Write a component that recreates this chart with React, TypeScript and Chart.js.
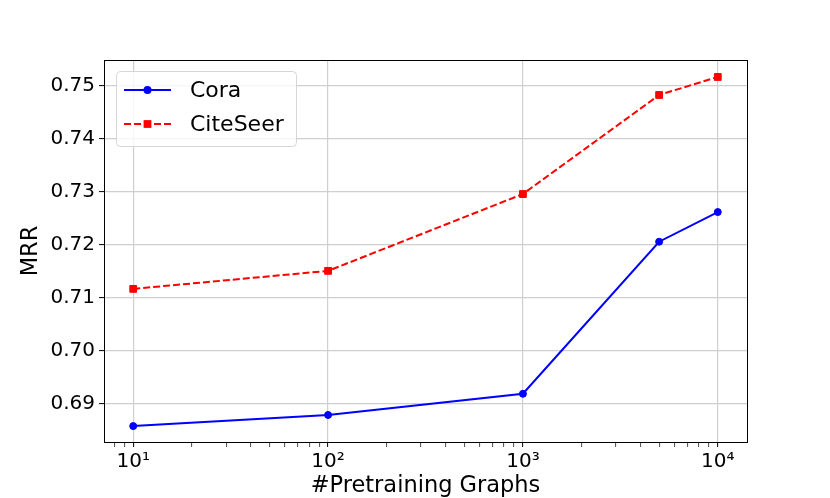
import { useEffect, useRef } from 'react';
import { Chart, registerables } from 'chart.js';

Chart.register(...registerables);

const pretrainGraphs = [10, 100, 1000, 5000, 10000];
const coraMRR = [0.6858, 0.6879, 0.6919, 0.7206, 0.7262];
const citeseerMRR = [0.7117, 0.7151, 0.7296, 0.7483, 0.7517];

const yTickValues = [0.69, 0.7, 0.71, 0.72, 0.73, 0.74, 0.75];
const xMajorTicks = [10, 100, 1000, 10000];
const xMinorTicks = [8, 9, 20, 30, 40, 50, 60, 70, 80, 90, 200, 300, 400, 500, 600, 700, 800, 900, 2000, 3000, 4000, 5000, 6000, 7000, 8000, 9000];
const superscripts: Record<string, string> = { '1': '¹', '2': '²', '3': '³', '4': '⁴' };

const FONT = "'DejaVu Sans', sans-serif";

// matplotlib-style frame around the plot area
const framePlugin = {
  id: 'frame',
  afterDraw(chart: any) {
    const { ctx, chartArea: a } = chart;
    ctx.save();
    ctx.strokeStyle = '#000';
    ctx.lineWidth = 1;
    ctx.strokeRect(Math.round(a.left) + 0.5, Math.round(a.top) + 0.5, Math.round(a.right - a.left), Math.round(a.bottom - a.top));
    ctx.restore();
  },
};

// legend with a line sample and a marker in its middle, upper left
const lineLegendPlugin = {
  id: 'lineLegend',
  afterDraw(chart: any) {
    const { ctx, chartArea: a } = chart;
    const x0 = a.left + 12;
    const y0 = a.top + 11;
    const w = 180;
    const h = 75;
    ctx.save();
    ctx.beginPath();
    ctx.roundRect(x0 + 0.5, y0 + 0.5, w, h, 4);
    ctx.fillStyle = 'rgba(255,255,255,0.8)';
    ctx.fill();
    ctx.strokeStyle = '#d6d6d6';
    ctx.lineWidth = 1;
    ctx.stroke();

    chart.data.datasets.forEach((ds: any, i: number) => {
      const cy = y0 + 19 + i * 34;
      const lx1 = x0 + 8;
      const lx2 = x0 + 55;
      const mx = (lx1 + lx2) / 2;
      ctx.beginPath();
      ctx.setLineDash(ds.borderDash || []);
      ctx.strokeStyle = ds.borderColor;
      ctx.lineWidth = ds.borderWidth;
      ctx.moveTo(lx1, cy);
      ctx.lineTo(lx2, cy);
      ctx.stroke();
      ctx.setLineDash([]);
      ctx.fillStyle = ds.pointBackgroundColor;
      ctx.beginPath();
      if (ds.pointStyle === 'rect') {
        const s = ds.pointRadius * Math.SQRT1_2 + 0.5;
        ctx.rect(mx - s, cy - s, 2 * s, 2 * s);
      } else {
        ctx.arc(mx, cy, ds.pointRadius + 0.5, 0, Math.PI * 2);
      }
      ctx.fill();
      ctx.fillStyle = '#000';
      ctx.font = `22px ${FONT}`;
      ctx.textBaseline = 'middle';
      ctx.textAlign = 'left';
      ctx.fillText(ds.label, x0 + 74, cy + 1);
    });
    ctx.restore();
  },
};

export default function App() {
  const canvasRef = useRef<HTMLCanvasElement | null>(null);

  useEffect(() => {
    if (!canvasRef.current) return;
    const chart = new Chart(canvasRef.current, {
      type: 'line',
      data: {
        datasets: [
          {
            label: 'Cora',
            data: pretrainGraphs.map((x, i) => ({ x, y: coraMRR[i] })),
            borderColor: '#0000ff',
            backgroundColor: '#0000ff',
            pointBackgroundColor: '#0000ff',
            pointBorderColor: '#0000ff',
            borderWidth: 2,
            pointStyle: 'circle',
            pointRadius: 3.5,
            pointBorderWidth: 1,
            tension: 0,
          },
          {
            label: 'CiteSeer',
            data: pretrainGraphs.map((x, i) => ({ x, y: citeseerMRR[i] })),
            borderColor: '#ff0000',
            backgroundColor: '#ff0000',
            pointBackgroundColor: '#ff0000',
            pointBorderColor: '#ff0000',
            borderWidth: 2,
            borderDash: [7, 3],
            pointStyle: 'rect',
            pointRadius: 4.8,
            pointBorderWidth: 1,
            tension: 0,
          },
        ],
      },
      options: {
        animation: false,
        responsive: false,
        layout: { padding: { top: 60, right: 83, left: 0, bottom: 0 } },
        plugins: { legend: { display: false }, tooltip: { enabled: false } },
        scales: {
          x: {
            type: 'logarithmic',
            min: Math.pow(10, 0.85),
            max: Math.pow(10, 4.15),
            afterBuildTicks: (scale: any) => {
              scale.ticks = [...xMinorTicks, ...xMajorTicks].sort((a, b) => a - b).map(v => ({ value: v, major: xMajorTicks.includes(v) }));
            },
            afterFit: (scale: any) => {
              scale.height = 56;
            },
            border: { display: false },
            grid: {
              color: (ctx: any) => (xMajorTicks.includes(ctx.tick?.value) ? '#cfcfcf' : 'rgba(0,0,0,0)'),
              lineWidth: 1.2,
              tickColor: '#000',
              tickLength: 5,
              tickWidth: (ctx: any) => (xMajorTicks.includes(ctx.tick?.value) ? 1 : 0.7),
            },
            ticks: {
              autoSkip: false,
              maxRotation: 0,
              padding: 3,
              color: '#000',
              font: { family: FONT, size: 20 },
              callback: (value: any) => {
                if (!xMajorTicks.includes(Number(value))) return '';
                const exp = String(Math.round(Math.log10(Number(value))));
                return '10' + superscripts[exp];
              },
            },
            title: {
              display: true,
              text: '#Pretraining Graphs',
              color: '#000',
              font: { family: FONT, size: 22.5, lineHeight: 1 },
              padding: { top: 0, bottom: 1 },
            },
          },
          y: {
            min: 0.6828,
            max: 0.7549,
            afterBuildTicks: (scale: any) => {
              scale.ticks = yTickValues.map(v => ({ value: v }));
            },
            afterFit: (scale: any) => {
              scale.width = 104;
            },
            border: { display: false },
            grid: {
              color: '#cfcfcf',
              lineWidth: 1.2,
              tickColor: '#000',
              tickLength: 5,
              tickWidth: 1,
            },
            ticks: {
              padding: 4,
              color: '#000',
              font: { family: FONT, size: 20 },
              callback: (value: any) => Number(value).toFixed(2),
            },
            title: {
              display: true,
              text: 'MRR',
              color: '#000',
              font: { family: FONT, size: 22.5, lineHeight: 1 },
              padding: { top: 20, bottom: 0 },
            },
          },
        },
      },
      plugins: [framePlugin, lineLegendPlugin],
    } as any);
    return () => chart.destroy();
  }, []);

  return (
    <div style={{ position: 'fixed', left: 0, top: 0, width: 830, height: 498, background: '#fff' }}>
      <canvas ref={canvasRef} width={830} height={498} />
    </div>
  );
}
